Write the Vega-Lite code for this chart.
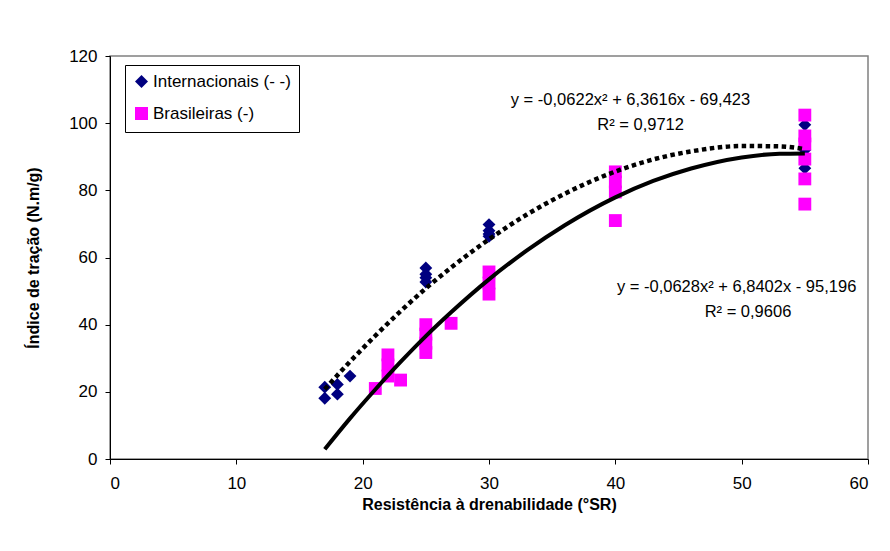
{
  "$schema": "https://vega.github.io/schema/vega-lite/v6.json",
  "width": 758,
  "height": 403,
  "autosize": "none",
  "padding": {"left": 110, "top": 56, "right": 22, "bottom": 92},
  "background": "white",
  "config": {
    "font": "Liberation Sans",
    "view": {"stroke": "#808080", "strokeWidth": 1.5},
    "axis": {
      "domainColor": "black", "tickColor": "black", "labelColor": "black", "titleColor": "black",
      "labelFont": "Liberation Sans", "titleFont": "Liberation Sans", "labelFontSize": 17, "titleFontSize": 16,
      "titleFontWeight": "bold", "grid": false, "tickSize": 5
    }
  },
  "datasets": {
    "pts": [
      {"serie": "Internacionais (- -)", "sr": 17, "idx": 21.4},
      {"serie": "Internacionais (- -)", "sr": 17, "idx": 18.1},
      {"serie": "Internacionais (- -)", "sr": 18, "idx": 22.2},
      {"serie": "Internacionais (- -)", "sr": 18, "idx": 19.3},
      {"serie": "Internacionais (- -)", "sr": 19, "idx": 24.7},
      {"serie": "Internacionais (- -)", "sr": 25, "idx": 56.9},
      {"serie": "Internacionais (- -)", "sr": 25, "idx": 55},
      {"serie": "Internacionais (- -)", "sr": 25, "idx": 54},
      {"serie": "Internacionais (- -)", "sr": 25, "idx": 52.7},
      {"serie": "Internacionais (- -)", "sr": 30, "idx": 69.8},
      {"serie": "Internacionais (- -)", "sr": 30, "idx": 68},
      {"serie": "Internacionais (- -)", "sr": 30, "idx": 67},
      {"serie": "Internacionais (- -)", "sr": 30, "idx": 66.3},
      {"serie": "Internacionais (- -)", "sr": 55, "idx": 99.5},
      {"serie": "Internacionais (- -)", "sr": 55, "idx": 92},
      {"serie": "Internacionais (- -)", "sr": 55, "idx": 86.6},
      {"serie": "Brasileiras (-)", "sr": 21, "idx": 21},
      {"serie": "Brasileiras (-)", "sr": 22, "idx": 31},
      {"serie": "Brasileiras (-)", "sr": 22, "idx": 28},
      {"serie": "Brasileiras (-)", "sr": 22, "idx": 24.7},
      {"serie": "Brasileiras (-)", "sr": 23, "idx": 23.5},
      {"serie": "Brasileiras (-)", "sr": 25, "idx": 40},
      {"serie": "Brasileiras (-)", "sr": 25, "idx": 37.2},
      {"serie": "Brasileiras (-)", "sr": 25, "idx": 34.5},
      {"serie": "Brasileiras (-)", "sr": 25, "idx": 31.7},
      {"serie": "Brasileiras (-)", "sr": 27, "idx": 40.4},
      {"serie": "Brasileiras (-)", "sr": 30, "idx": 55.7},
      {"serie": "Brasileiras (-)", "sr": 30, "idx": 52.4},
      {"serie": "Brasileiras (-)", "sr": 30, "idx": 49.1},
      {"serie": "Brasileiras (-)", "sr": 40, "idx": 85.5},
      {"serie": "Brasileiras (-)", "sr": 40, "idx": 82.5},
      {"serie": "Brasileiras (-)", "sr": 40, "idx": 79.5},
      {"serie": "Brasileiras (-)", "sr": 40, "idx": 71},
      {"serie": "Brasileiras (-)", "sr": 55, "idx": 102.4},
      {"serie": "Brasileiras (-)", "sr": 55, "idx": 96.2},
      {"serie": "Brasileiras (-)", "sr": 55, "idx": 93.8},
      {"serie": "Brasileiras (-)", "sr": 55, "idx": 89.3},
      {"serie": "Brasileiras (-)", "sr": 55, "idx": 83.4},
      {"serie": "Brasileiras (-)", "sr": 55, "idx": 75.9}
    ],
    "curves": [
      {"serie": "Internacionais (- -)", "sr": 17, "idx": 20.8},
      {"serie": "Internacionais (- -)", "sr": 19, "idx": 29.0},
      {"serie": "Internacionais (- -)", "sr": 21, "idx": 36.7},
      {"serie": "Internacionais (- -)", "sr": 23, "idx": 44.0},
      {"serie": "Internacionais (- -)", "sr": 25, "idx": 50.8},
      {"serie": "Internacionais (- -)", "sr": 27, "idx": 57.0},
      {"serie": "Internacionais (- -)", "sr": 30, "idx": 65.4},
      {"serie": "Internacionais (- -)", "sr": 33, "idx": 72.8},
      {"serie": "Internacionais (- -)", "sr": 36, "idx": 79.0},
      {"serie": "Internacionais (- -)", "sr": 40, "idx": 85.6},
      {"serie": "Internacionais (- -)", "sr": 43, "idx": 89.2},
      {"serie": "Internacionais (- -)", "sr": 46, "idx": 91.6},
      {"serie": "Internacionais (- -)", "sr": 50, "idx": 93.2},
      {"serie": "Internacionais (- -)", "sr": 53, "idx": 93.1},
      {"serie": "Internacionais (- -)", "sr": 55, "idx": 92.3},
      {"serie": "Brasileiras (-)", "sr": 17, "idx": 2.9},
      {"serie": "Brasileiras (-)", "sr": 19, "idx": 12.1},
      {"serie": "Brasileiras (-)", "sr": 21, "idx": 20.7},
      {"serie": "Brasileiras (-)", "sr": 23, "idx": 28.9},
      {"serie": "Brasileiras (-)", "sr": 25, "idx": 36.6},
      {"serie": "Brasileiras (-)", "sr": 27, "idx": 43.7},
      {"serie": "Brasileiras (-)", "sr": 30, "idx": 53.5},
      {"serie": "Brasileiras (-)", "sr": 33, "idx": 62.1},
      {"serie": "Brasileiras (-)", "sr": 36, "idx": 69.6},
      {"serie": "Brasileiras (-)", "sr": 40, "idx": 77.9},
      {"serie": "Brasileiras (-)", "sr": 43, "idx": 82.8},
      {"serie": "Brasileiras (-)", "sr": 46, "idx": 86.5},
      {"serie": "Brasileiras (-)", "sr": 50, "idx": 89.8},
      {"serie": "Brasileiras (-)", "sr": 53, "idx": 90.9},
      {"serie": "Brasileiras (-)", "sr": 55, "idx": 91.0}
    ],
    "eq": [
      {"sr": 41.2, "idx": 107, "label": "y = -0,0622x² + 6,3616x - 69,423"},
      {"sr": 42.0, "idx": 99.5, "label": "R² = 0,9712"},
      {"sr": 49.6, "idx": 51.3, "label": "y = -0,0628x² + 6,8402x - 95,196"},
      {"sr": 50.5, "idx": 43.8, "label": "R² = 0,9606"}
    ]
  },
  "encoding": {
    "x": {"field": "sr", "type": "quantitative", "scale": {"domain": [0, 60], "nice": false},
      "axis": {"values": [0, 10, 20, 30, 40, 50, 60], "title": "Resistência à drenabilidade (°SR)", "titlePadding": 5, "labelPadding": 11}},
    "y": {"field": "idx", "type": "quantitative", "scale": {"domain": [0, 120], "nice": false},
      "axis": {"values": [0, 20, 40, 60, 80, 100, 120], "title": "Índice de tração (N.m/g)", "titlePadding": 27, "labelPadding": 8}}
  },
  "layer": [
    {
      "data": {"name": "pts"},
      "mark": {"type": "point", "filled": true, "opacity": 1},
      "encoding": {
        "color": {"field": "serie", "type": "nominal",
          "scale": {"domain": ["Internacionais (- -)", "Brasileiras (-)"], "range": ["#000080", "#FF00FF"]},
          "legend": {"title": null, "orient": "none", "legendX": 15, "legendY": 9, "strokeColor": "black", "fillColor": "white",
            "padding": 8, "labelFontSize": 17, "labelFont": "Liberation Sans", "labelColor": "black", "symbolSize": 170, "rowPadding": 11, "labelOffset": 3, "symbolOpacity": 1}},
        "shape": {"field": "serie", "type": "nominal",
          "scale": {"domain": ["Internacionais (- -)", "Brasileiras (-)"], "range": ["diamond", "square"]}},
        "size": {"value": 165}
      }
    },
    {
      "data": {"name": "curves"},
      "transform": [{"filter": "datum.serie === 'Internacionais (- -)'"}],
      "mark": {"type": "line", "color": "black", "strokeWidth": 4.5, "strokeDash": [4.5, 3.5], "strokeCap": "butt", "interpolate": "monotone"},
      "encoding": {}
    },
    {
      "data": {"name": "curves"},
      "transform": [{"filter": "datum.serie === 'Brasileiras (-)'"}],
      "mark": {"type": "line", "color": "black", "strokeWidth": 4, "interpolate": "monotone"},
      "encoding": {}
    },
    {
      "data": {"name": "eq"},
      "mark": {"type": "text", "font": "Liberation Sans", "fontSize": 16.5, "color": "black", "align": "center", "baseline": "middle"},
      "encoding": {"text": {"field": "label"}}
    }
  ]
}
